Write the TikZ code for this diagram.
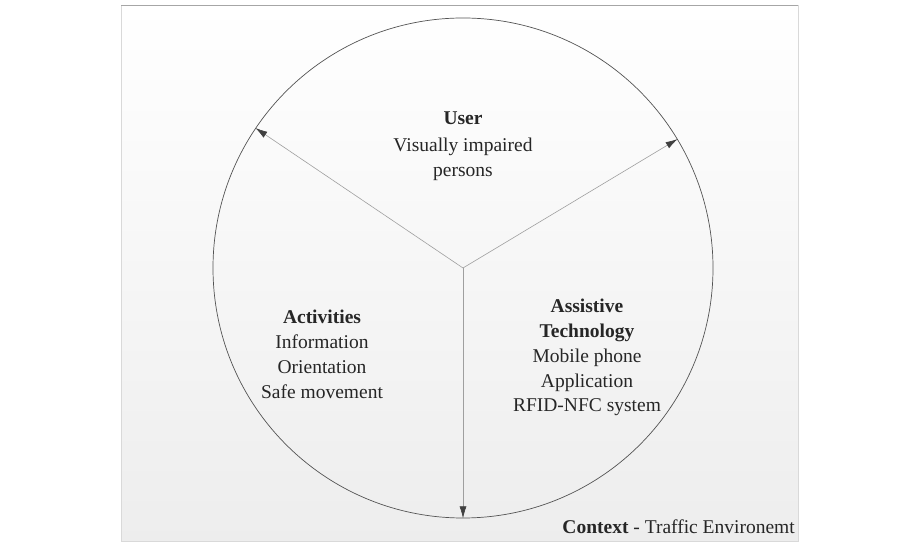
\documentclass[tikz,border=0pt]{standalone}
\usepackage{fontspec}
\setmainfont{Liberation Serif}
\usetikzlibrary{arrows.meta}
\begin{document}
\begin{tikzpicture}[x=1pt,y=1pt,
  txt/.style={anchor=base,inner sep=0pt,font=\fontsize{19.5}{25}\selectfont,text=black!85},
  hd/.style={txt,font=\fontsize{19.5}{25}\selectfont\bfseries},
  arr/.style={draw=gray!75,line width=0.6pt,-{Latex[length=12pt,width=7pt,fill=black!75,color=black!75]}}]
\useasboundingbox (0,0) rectangle (910,543);
% frame with soft gradient
\shade[top color=white,bottom color=gray!14] (121,2) rectangle (798,538);
\draw[gray!30,line width=0.8pt] (121,2) rectangle (798,538);
\draw[gray!70,line width=0.9pt] (121,538) -- (798,538);
% circle
\coordinate (c) at (463,275);
\node[circle,draw=gray!65!black,line width=0.7pt,minimum size=500pt,inner sep=0pt] (circ) at (c) {};
% arrows
\draw[arr] (c) -- (circ.146);
\draw[arr] (c) -- (circ.31);
\draw[arr] (c) -- (circ.270);
% User
\node[hd] (user) at (463,418) {User};
\node[txt] (vis) at (463,391) {Visually impaired};
\node[txt] (pers) at (463,366) {persons};
% Activities
\node[hd] (act) at (322,219) {Activities};
\node[txt] (info) at (322,194) {Information};
\node[txt] (orient) at (322,169) {Orientation};
\node[txt] (safe) at (322,144) {Safe movement};
% Assistive Technology
\node[hd] (assist) at (587,230) {Assistive};
\node[hd] (tech) at (587,205) {Technology};
\node[txt] (mob) at (587,180) {Mobile phone};
\node[txt] (app) at (587,155) {Application};
\node[txt] (rfid) at (587,131) {RFID-NFC system};
% Context
\node[txt,anchor=base east] (ctx) at (795,9) {\textbf{Context} - Traffic Environemt};
\end{tikzpicture}
\end{document}
